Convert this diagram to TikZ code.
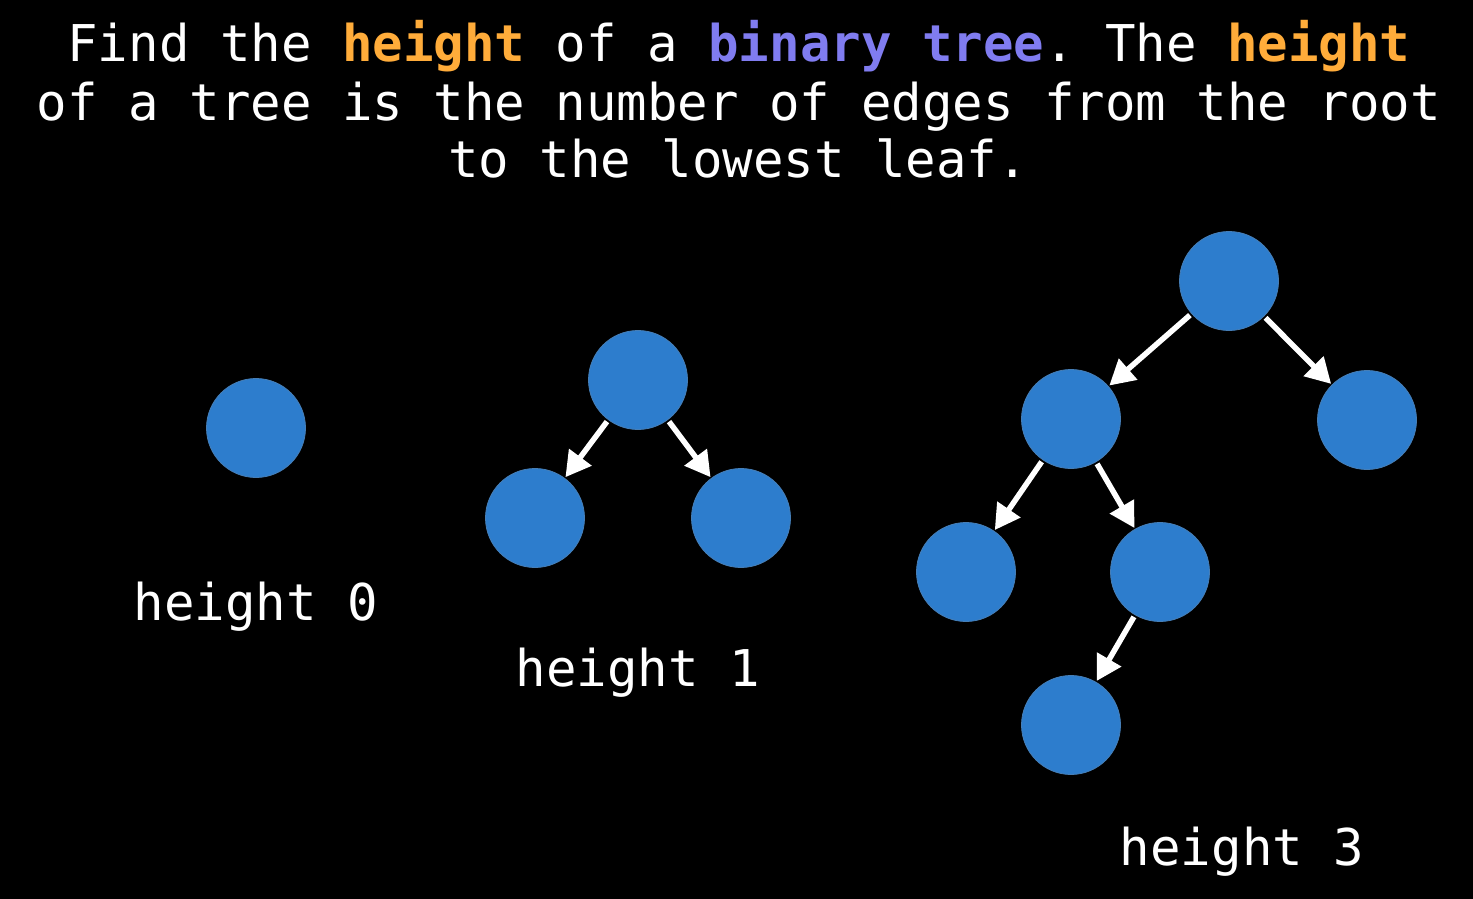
\documentclass[tikz,border=0pt]{standalone}
\usepackage{fontspec}
\setmonofont{DejaVu Sans Mono}
\usetikzlibrary{arrows.meta}
\definecolor{nodeblue}{RGB}{45,125,205}
\definecolor{hlorange}{RGB}{255,172,58}
\definecolor{hlpurple}{RGB}{128,124,240}
\begin{document}
\begin{tikzpicture}[x=1pt,y=-1pt,
  tnode/.style={circle,fill=nodeblue,draw=nodeblue!70!gray,line width=0.8pt,minimum size=99pt,inner sep=0pt},
  edge/.style={draw=white,line width=5.5pt,-{Triangle[length=25pt,width=27pt]},shorten >=1pt,shorten <=2pt},
  txt/.style={text=white,font=\ttfamily\fontsize{50.7}{58}\selectfont,anchor=base,inner sep=0pt}]
\fill[black] (0,0) rectangle (1473,899);
\useasboundingbox (0,0) rectangle (1473,899);
% title
\node[txt] (t1) at (739,62) {Find the \textcolor{hlorange}{\bfseries height} of a \textcolor{hlpurple}{\bfseries binary tree}. The \textcolor{hlorange}{\bfseries height}};
\node[txt] (t2) at (739,120) {of a tree is the number of edges from the root};
\node[txt] (t3) at (738,177) {to the lowest leaf.};
% tree 0
\node[tnode] (a) at (256,428) {};
\node[txt] (la) at (256,620) {height 0};
% tree 1
\node[tnode] (b) at (638,380) {};
\node[tnode] (bl) at (535,518) {};
\node[tnode] (br) at (741,518) {};
\draw[edge] (b) -- (bl);
\draw[edge] (b) -- (br);
\node[txt] (lb) at (638,686) {height 1};
% tree 3
\node[tnode] (c) at (1229,281) {};
\node[tnode] (cl) at (1071,419) {};
\node[tnode] (cr) at (1367,420) {};
\node[tnode] (cll) at (966,572) {};
\node[tnode] (clr) at (1160,572) {};
\node[tnode] (clrl) at (1071,725) {};
\draw[edge] (c) -- (cl);
\draw[edge] (c) -- (cr);
\draw[edge] (cl) -- (cll);
\draw[edge] (cl) -- (clr);
\draw[edge] (clr) -- (clrl);
\node[txt] (lc) at (1242,865) {height 3};
\end{tikzpicture}
\end{document}
